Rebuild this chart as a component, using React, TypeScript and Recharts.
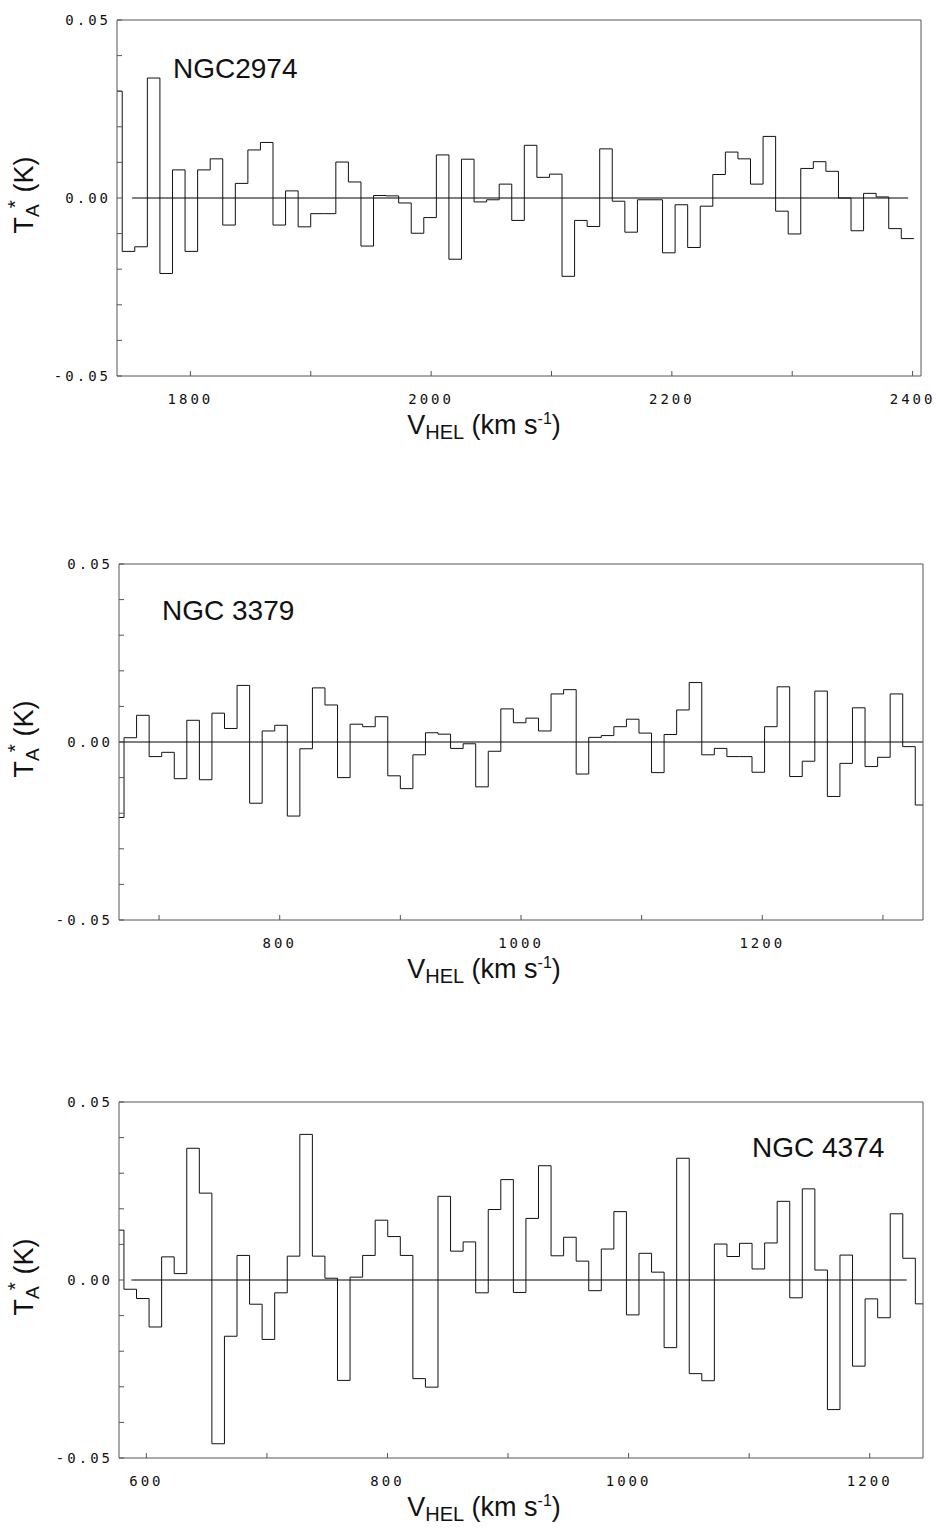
import React from "react"
import { LineChart, Line, XAxis, YAxis, ReferenceLine } from "recharts"

// antenna temperature per channel (K); first channel sits partly off the left edge
const ngc2974Values = [
  0.03, -0.015, -0.0137, 0.0337, -0.0212, 0.0079, -0.015, 0.0079, 0.011, -0.0076,
  0.0041, 0.0135, 0.0156, -0.0076, 0.002, -0.0081, -0.0044, -0.0044, 0.0101, 0.0045,
  -0.0135, 0.0007, 0.0006, -0.0014, -0.0099, -0.0055, 0.0121, -0.0172, 0.0109, -0.0011,
  -0.0005, 0.0039, -0.0063, 0.0148, 0.0058, 0.0067, -0.022, -0.0063, -0.008, 0.0138,
  -0.0009, -0.0096, -0.0005, -0.0005, -0.0154, -0.0019, -0.0139, -0.0023, 0.0066, 0.0129,
  0.011, 0.0039, 0.0173, -0.0037, -0.0101, 0.0083, 0.0102, 0.0075, 0.0, -0.0092,
  0.0013, 0.0003, -0.0086, -0.0114,
]
const ngc3379Values = [
  -0.0212, 0.0012, 0.0075, -0.0041, -0.0029, -0.0103, 0.0061, -0.0106, 0.0081, 0.0038,
  0.0159, -0.0172, 0.0031, 0.0047, -0.0208, -0.0019, 0.0152, 0.0104, -0.01, 0.005,
  0.0043, 0.0071, -0.0095, -0.0131, -0.0036, 0.0026, 0.0022, -0.0018, -0.0005, -0.0126,
  -0.0026, 0.0093, 0.0054, 0.0067, 0.0031, 0.0135, 0.0147, -0.009, 0.0013, 0.0018,
  0.0043, 0.0064, 0.0025, -0.0086, 0.0021, 0.009, 0.0167, -0.0036, -0.0018, -0.0041,
  -0.0041, -0.0085, 0.0043, 0.0155, -0.0097, -0.0054, 0.0143, -0.0153, -0.006, 0.0096,
  -0.0069, -0.0043, 0.0135, -0.0013, -0.0177,
]
const ngc4374Values = [
  0.014, -0.0026, -0.0052, -0.0132, 0.0065, 0.0018, 0.037, 0.0244, -0.046, -0.0158,
  0.0069, -0.0068, -0.0167, -0.0036, 0.0067, 0.0409, 0.0067, 0.0005, -0.0282, 0.0008,
  0.0069, 0.0168, 0.0122, 0.0069, -0.0277, -0.0301, 0.0235, 0.0081, 0.0107, -0.0036,
  0.0198, 0.0282, -0.0035, 0.0173, 0.0321, 0.0068, 0.012, 0.0053, -0.003, 0.0087,
  0.0192, -0.0098, 0.0075, 0.0022, -0.019, 0.0342, -0.0263, -0.0283, 0.0101, 0.0066,
  0.0103, 0.0031, 0.0104, 0.0221, -0.005, 0.0256, 0.0028, -0.0364, 0.007, -0.0242,
  -0.0053, -0.0106, 0.0186, 0.0061, -0.0067,
]

// channel grids (km/s): left edge of first channel, channel width
const ngc2974Start = 1732.9
const ngc2974Width = 10.44
const ngc3379Start = 660.56
const ngc3379Width = 10.41
const ngc4374Start = 570.98
const ngc4374Width = 10.42

const ngc2974Ticks = [1800, 1900, 2000, 2100, 2200, 2300, 2400]
const ngc2974Labels = [1800, 2000, 2200, 2400]
const ngc3379Ticks = [700, 800, 900, 1000, 1100, 1200, 1300]
const ngc3379Labels = [800, 1000, 1200]
const ngc4374Ticks = [600, 700, 800, 900, 1000, 1100, 1200]
const ngc4374Labels = [600, 800, 1000, 1200]

const yTicks = [-0.05, -0.04, -0.03, -0.02, -0.01, 0, 0.01, 0.02, 0.03, 0.04, 0.05]
const yLabels = [-0.05, 0, 0.05]

const MONO = "'DejaVu Sans Mono', 'Liberation Mono', monospace"
const SANS = "'Liberation Sans', Arial, Helvetica, sans-serif"
const AXIS = "#555"

function toSteps(values: number[], start: number, width: number) {
  const pts = values.map((t, i) => ({ v: start + i * width, t }))
  pts.push({ v: start + values.length * width, t: values[values.length - 1] })
  return pts
}

interface SpectrumProps {
  top: number
  left: number
  right: number
  data: { v: number; t: number }[]
  domain: [number, number]
  xTicks: number[]
  xLabels: number[]
  zero: [number, number]
}

function Spectrum({ top, left, right, data, domain, xTicks, xLabels, zero }: SpectrumProps) {
  const plotH = 356
  const padTop = 18
  const axisH = 50
  const yAxisW = 60
  const tickStyle = { fill: "#111", fontSize: 14, fontFamily: MONO, letterSpacing: 3 }
  const near = (a: number, b: number) => Math.abs(a - b) < 1e-9

  return (
    <div style={{ position: "absolute", top, left: 0 }}>
      <LineChart
        width={940}
        height={padTop + 1 + plotH + axisH + 4}
        data={data}
        margin={{ top: padTop, right: 940 - right - 1, bottom: 4, left: left - yAxisW }}
      >
        <XAxis
          dataKey="v"
          type="number"
          domain={domain}
          allowDataOverflow
          ticks={xTicks}
          interval={0}
          tickFormatter={(v: number) => (xLabels.includes(v) ? String(v) : "")}
          tickSize={-5}
          tickMargin={23}
          height={axisH}
          stroke={AXIS}
          tick={tickStyle}
        />
        <XAxis
          xAxisId="top"
          orientation="top"
          dataKey="v"
          type="number"
          domain={domain}
          allowDataOverflow
          ticks={xTicks}
          interval={0}
          tick={false}
          tickSize={-5}
          height={1}
          stroke={AXIS}
        />
        <YAxis
          type="number"
          domain={[-0.05, 0.05]}
          allowDataOverflow
          ticks={yTicks}
          interval={0}
          tickFormatter={(v: number) => (yLabels.some((l) => near(l, v)) ? v.toFixed(2) : "")}
          tickSize={-5}
          tickMargin={11}
          width={yAxisW}
          stroke={AXIS}
          tick={tickStyle}
        />
        <YAxis
          yAxisId="right"
          orientation="right"
          type="number"
          domain={[-0.05, 0.05]}
          allowDataOverflow
          ticks={yTicks}
          interval={0}
          tick={false}
          tickSize={-5}
          width={1}
          stroke={AXIS}
        />
        <ReferenceLine
          segment={[
            { x: zero[0], y: 0 },
            { x: zero[1], y: 0 },
          ]}
          stroke="#000"
          strokeWidth={1.2}
        />
        <Line
          type="stepAfter"
          dataKey="t"
          stroke="#111"
          strokeWidth={1}
          dot={false}
          isAnimationActive={false}
        />
      </LineChart>
    </div>
  )
}

function YTitle({ cy }: { cy: number }) {
  return (
    <text transform={`translate(33, ${cy}) rotate(-90)`} textAnchor="middle" fontFamily={SANS} fontSize={27} fill="#111">
      T
      <tspan fontSize={19} dy={6}>A</tspan>
      <tspan fontSize={21} dy={-17} dx={-4}>*</tspan>
      <tspan dy={11}> (K)</tspan>
    </text>
  )
}

function XTitle({ y }: { y: number }) {
  return (
    <text x={484} y={y} textAnchor="middle" fontFamily={SANS} fontSize={27} fill="#111">
      V
      <tspan fontSize={20} dy={5}>HEL</tspan>
      <tspan dy={-5}> (km s</tspan>
      <tspan fontSize={16} dy={-10}>-1</tspan>
      <tspan dy={10}>)</tspan>
    </text>
  )
}

export default function App() {
  const d1 = toSteps(ngc2974Values, ngc2974Start, ngc2974Width)
  const d2 = toSteps(ngc3379Values, ngc3379Start, ngc3379Width)
  const d3 = toSteps(ngc4374Values, ngc4374Start, ngc4374Width)

  return (
    <div style={{ position: "absolute", top: 0, left: 0, width: 940, height: 1530, background: "#fff" }}>
      <Spectrum top={1} left={117} right={921} data={d1} domain={[1739, 2407]} xTicks={ngc2974Ticks} xLabels={ngc2974Labels} zero={[1751.6, 2396.3]} />
      <Spectrum top={545} left={119} right={923} data={d2} domain={[666.8, 1333.2]} xTicks={ngc3379Ticks} xLabels={ngc3379Labels} zero={[666.8, 1333.2]} />
      <Spectrum top={1083} left={119} right={923} data={d3} domain={[577.3, 1244.2]} xTicks={ngc4374Ticks} xLabels={ngc4374Labels} zero={[587.6, 1230.7]} />
      <svg width={940} height={1530} style={{ position: "absolute", top: 0, left: 0, pointerEvents: "none" }}>
        <text x={173} y={78} fontFamily={SANS} fontSize={28} fill="#111">NGC2974</text>
        <text x={162} y={620} fontFamily={SANS} fontSize={28} fill="#111">NGC 3379</text>
        <text x={752} y={1157} fontFamily={SANS} fontSize={28} fill="#111">NGC 4374</text>
        <YTitle cy={195} />
        <YTitle cy={739} />
        <YTitle cy={1277} />
        <XTitle y={434} />
        <XTitle y={978} />
        <XTitle y={1516} />
      </svg>
    </div>
  )
}
